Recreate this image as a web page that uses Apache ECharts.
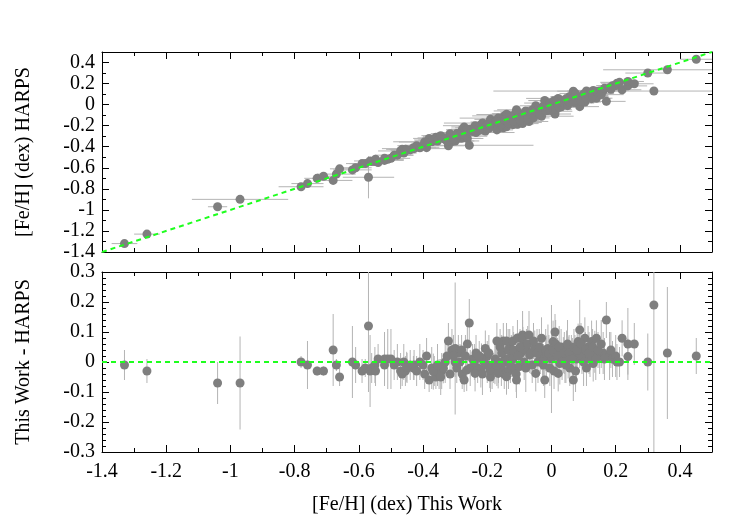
<!DOCTYPE html>
<html>
<head>
<meta charset="utf-8">
<script src="https://cdn.jsdelivr.net/npm/echarts@6/dist/echarts.min.js"></script>
<style>html,body{margin:0;padding:0;background:#fff}#c{width:750px;height:525px}</style>
</head>
<body>
<div id="c"></div>
<script>
// [Fe/H] This Work (x)
const fehThisWork = [-1.33,-1.26,-1.04,-0.97,-0.78,-0.76,-0.73,-0.71,-0.68,-0.67,-0.66,-0.62,-0.61,-0.59,-0.58,-0.57,-0.565,-0.56,-0.55,-0.548,-0.54,-0.52,-0.52,-0.51,-0.50,-0.49,-0.48,-0.47,-0.465,-0.46,-0.455,-0.45,-0.44,-0.43,-0.428,-0.40,-0.389,-0.381,-0.373,-0.365,-0.36,-0.35,-0.342,-0.331,-0.321,-0.316,-0.31,-0.30,-0.30,-0.29,-0.28,-0.278,-0.272,-0.262,-0.256,-0.253,-0.246,-0.235,-0.23,-0.22,-0.21,-0.206,-0.20,-0.19,-0.185,-0.18,-0.175,-0.17,-0.165,-0.16,-0.156,-0.15,-0.147,-0.144,-0.14,-0.134,-0.13,-0.125,-0.12,-0.12,-0.114,-0.11,-0.106,-0.10,-0.095,-0.09,-0.09,-0.089,-0.085,-0.078,-0.07,-0.068,-0.06,-0.052,-0.049,-0.042,-0.035,-0.031,-0.031,-0.025,-0.021,-0.016,-0.011,-0.005,0.0,0.005,0.011,0.016,0.021,0.026,0.03,0.037,0.042,0.047,0.052,0.057,0.062,0.068,0.073,0.078,0.083,0.088,0.088,0.095,0.104,0.109,0.114,0.12,0.125,0.13,0.135,0.14,0.15,0.161,0.171,0.181,0.19,0.2,0.204,0.212,0.22,0.238,0.238,0.258,0.30,0.319,0.361,0.451,
  -0.451,-0.368,-0.337,-0.264,-0.238,-0.218,-0.192,-0.176,-0.166,-0.140,-0.109,
  -0.42,-0.41,-0.395,-0.355,-0.345,-0.325,-0.305,-0.295,-0.285,-0.268,-0.24,-0.225,-0.215,-0.2,-0.195,-0.17,-0.155,-0.145,-0.135,-0.128,-0.118,-0.103,-0.098,-0.08,-0.074,-0.064,-0.056,-0.045,-0.038,-0.028,-0.018,-0.008,0.003,0.008,0.013,0.019,0.024,0.033,0.04,0.045,0.05,0.055,0.065,0.07,0.075,0.08,0.092,0.1,0.106,0.117,0.128,0.138,0.145,0.155,0.165,0.185];
// This Work - HARPS (bottom panel)
const diffTwHarps = [-0.01,-0.03,-0.07,-0.07,0.00,-0.01,-0.03,-0.03,0.04,-0.01,-0.05,0.00,-0.01,-0.03,-0.02,0.12,-0.03,-0.02,-0.01,-0.03,0.01,0.01,-0.01,0.01,0.01,-0.01,0.00,-0.03,-0.04,0.00,-0.03,-0.02,-0.01,-0.02,-0.01,-0.01,0.02,-0.06,-0.02,-0.03,-0.05,-0.04,-0.03,0.00,0.07,-0.04,0.04,0.045,0.00,0.03,0.04,-0.04,-0.06,0.06,0.13,-0.02,0.01,0.03,-0.02,-0.025,0.00,0.045,0.02,-0.05,-0.03,-0.02,0.01,0.07,0.00,0.05,-0.02,0.07,-0.04,0.01,0.07,-0.03,0.05,0.02,0.07,0.01,-0.02,-0.04,0.08,-0.015,0.03,0.09,0.08,0.057,0.00,0.04,0.09,0.023,-0.01,0.045,-0.038,0.00,0.02,0.079,0.034,-0.01,-0.06,0.018,0.045,-0.02,0.01,0.068,0.10,0.034,-0.038,-0.005,0.05,0.023,0.00,0.045,0.015,-0.02,0.03,-0.06,0.03,0.01,0.068,0.107,0.04,0.02,0.079,-0.02,0.05,0.01,0.068,-0.005,0.034,0.079,0.02,0.03,0.14,0.02,0.01,0.02,0.00,0.00,0.079,0.06,0.018,0.06,0.00,0.19,0.03,0.02,
  -0.016,-0.032,-0.021,-0.027,-0.038,0.012,-0.027,-0.004,-0.038,-0.049,-0.06,
  -0.03,0.0,-0.04,-0.01,-0.05,0.02,0.02,-0.02,0.0,0.02,0.0,0.02,-0.04,-0.01,0.03,-0.01,0.03,0.0,0.04,-0.01,0.04,0.02,0.05,-0.02,0.06,0.03,0.07,0.03,0.05,0.0,0.04,0.03,0.04,-0.03,0.06,0.02,0.05,0.0,0.03,-0.01,0.06,0.03,0.01,0.05,-0.03,0.04,0.06,0.0,0.04,0.03,0.05,0.01,0.04,0.06,0.01,0.04];
// uncertainties
const errThisWork = [0.04,0.04,0.03,0.15,0.07,0.05,0.04,0.03,0.06,0.06,0.03,0.06,0.05,0.04,0.06,0.08,0.05,0.04,0.05,0.03,0.04,0.06,0.04,0.05,0.06,0.06,0.05,0.07,0.05,0.04,0.05,0.04,0.04,0.05,0.1,0.05,0.04,0.05,0.12,0.05,0.04,0.05,0.06,0.05,0.05,0.06,0.05,0.06,0.1,0.04,0.06,0.05,0.04,0.05,0.2,0.06,0.05,0.12,0.06,0.04,0.05,0.06,0.1,0.05,0.04,0.05,0.06,0.05,0.05,0.04,0.06,0.05,0.1,0.06,0.05,0.05,0.06,0.05,0.05,0.04,0.12,0.05,0.05,0.06,0.05,0.05,0.06,0.05,0.1,0.05,0.06,0.05,0.06,0.05,0.05,0.06,0.05,0.1,0.06,0.05,0.05,0.06,0.05,0.08,0.05,0.06,0.05,0.05,0.1,0.05,0.05,0.06,0.05,0.05,0.05,0.06,0.05,0.05,0.06,0.05,0.05,0.06,0.05,0.05,0.05,0.06,0.05,0.05,0.06,0.05,0.05,0.05,0.05,0.06,0.06,0.06,0.05,0.06,0.05,0.06,0.06,0.06,0.05,0.06,0.07,0.5,0.2,0.05,
  0.05,0.06,0.08,0.05,0.1,0.05,0.06,0.05,0.12,0.05,0.06,
  0.06,0.05,0.08,0.05,0.06,0.1,0.05,0.06,0.05,0.07,0.05,0.06,0.12,0.05,0.06,0.05,0.08,0.05,0.06,0.05,0.07,0.05,0.06,0.1,0.05,0.06,0.05,0.07,0.05,0.06,0.05,0.06,0.05,0.08,0.05,0.06,0.05,0.07,0.05,0.06,0.05,0.08,0.05,0.06,0.05,0.07,0.05,0.06,0.05,0.06,0.05,0.06,0.05,0.07,0.05,0.06];
const errDiff = [0.05,0.04,0.07,0.155,0.02,0.08,0.015,0.015,0.12,0.02,0.03,0.12,0.06,0.04,0.03,0.22,0.12,0.05,0.06,0.05,0.05,0.09,0.06,0.10,0.10,0.05,0.06,0.06,0.04,0.06,0.05,0.05,0.05,0.04,0.05,0.05,0.06,0.04,0.07,0.05,0.04,0.05,0.06,0.07,0.06,0.05,0.07,0.22,0.05,0.06,0.05,0.05,0.04,0.08,0.08,0.06,0.05,0.06,0.05,0.06,0.05,0.06,0.05,0.05,0.06,0.05,0.06,0.06,0.07,0.06,0.06,0.06,0.05,0.05,0.06,0.06,0.06,0.07,0.05,0.06,0.05,0.06,0.06,0.06,0.06,0.08,0.06,0.06,0.06,0.07,0.08,0.06,0.06,0.06,0.06,0.07,0.06,0.07,0.06,0.07,0.06,0.07,0.08,0.06,0.18,0.07,0.06,0.07,0.06,0.07,0.06,0.06,0.07,0.06,0.07,0.06,0.06,0.07,0.06,0.07,0.06,0.1,0.06,0.06,0.07,0.06,0.07,0.06,0.07,0.06,0.07,0.06,0.06,0.07,0.06,0.08,0.06,0.07,0.06,0.05,0.06,0.12,0.06,0.07,0.095,0.5,0.22,0.06,
  0.05,0.06,0.05,0.07,0.06,0.05,0.06,0.07,0.05,0.06,0.06,
  0.05,0.06,0.05,0.07,0.06,0.06,0.07,0.05,0.06,0.07,0.06,0.05,0.07,0.06,0.06,0.07,0.06,0.05,0.07,0.06,0.06,0.07,0.06,0.08,0.06,0.07,0.06,0.08,0.06,0.07,0.07,0.06,0.07,0.06,0.08,0.06,0.07,0.06,0.07,0.06,0.08,0.06,0.07,0.06,0.07,0.06,0.07,0.08,0.06,0.07,0.06,0.07,0.06,0.08,0.07,0.06];
const errHarps = [0.02,0.02,0.03,0.02,0.02,0.02,0.02,0.02,0.02,0.02,0.02,0.03,0.02,0.02,0.02,0.2,0.02,0.02,0.02,0.02,0.02,0.02,0.02,0.02,0.02,0.02,0.02,0.02,0.02,0.02,0.02,0.02,0.02,0.02,0.02,0.02,0.02,0.02,0.02,0.02,0.02,0.02,0.02,0.02,0.02,0.02,0.02,0.03,0.02,0.02,0.02,0.02,0.02,0.02,0.04,0.02,0.02,0.02,0.02,0.02,0.02,0.02,0.02,0.02,0.02,0.02,0.02,0.02,0.02,0.02,0.02,0.02,0.02,0.02,0.02,0.02,0.02,0.02,0.02,0.02,0.02,0.02,0.02,0.02,0.02,0.03,0.02,0.02,0.02,0.02,0.02,0.02,0.02,0.02,0.02,0.02,0.02,0.02,0.02,0.02,0.02,0.02,0.02,0.02,0.03,0.02,0.02,0.02,0.02,0.02,0.02,0.02,0.02,0.02,0.02,0.02,0.02,0.02,0.02,0.02,0.02,0.04,0.02,0.02,0.03,0.02,0.02,0.02,0.02,0.02,0.02,0.03,0.02,0.02,0.04,0.02,0.02,0.02,0.02,0.02,0.02,0.03,0.02,0.02,0.02,0.03,0.04,0.03,
  0.02,0.02,0.02,0.02,0.02,0.02,0.02,0.02,0.02,0.02,0.02,
  0.02,0.02,0.02,0.02,0.02,0.02,0.02,0.02,0.02,0.02,0.02,0.02,0.02,0.02,0.02,0.02,0.02,0.02,0.02,0.02,0.02,0.02,0.02,0.02,0.02,0.02,0.02,0.02,0.02,0.02,0.02,0.02,0.02,0.02,0.02,0.02,0.02,0.02,0.02,0.02,0.02,0.02,0.02,0.02,0.02,0.02,0.02,0.02,0.02,0.02,0.02,0.02,0.02,0.02,0.02,0.02];
// HARPS value follows from the definition of the bottom panel: HARPS = This Work - (This Work - HARPS)
const fehHarps = fehThisWork.map((v,i)=>Math.round((v-diffTwHarps[i])*1000)/1000);

const xTicks = {min:-1.4, max:0.5, interval:0.2};
const topYTicks = {min:-1.4, max:0.5, interval:0.2};
const botYTicks = {min:-0.3, max:0.3, interval:0.1};

const FONT = '"Liberation Serif", "Times New Roman", serif';
const fmt = (lim)=> v => (v > lim + 1e-9) ? '' : String(Math.round(v*10)/10);

function axisBase(extra){
  return Object.assign({
    type:'value',
    axisLine:{show:true, onZero:false, lineStyle:{color:'#000', width:1}},
    axisTick:{show:true, inside:true, length:7, lineStyle:{color:'#000', width:1}},
    minorTick:{show:true, splitNumber:2, length:4, lineStyle:{color:'#000', width:1}},
    splitLine:{show:false},
    axisLabel:{show:false}
  }, extra);
}
const lbl = (f, margin)=>({show:true, color:'#000', fontFamily:FONT, fontSize:20, margin:margin, formatter:f});
const nameStyle = {color:'#000', fontFamily:FONT, fontSize:20};

const topPts = fehThisWork.map((x,i)=>[x, fehHarps[i], errThisWork[i], errHarps[i]]);
const botPts = fehThisWork.map((x,i)=>[x, diffTwHarps[i], 0, errDiff[i]]);

function errRender(params, api){
  const x=api.value(0), y=api.value(1), ex=api.value(2), ey=api.value(3);
  const ch=[];
  const st={stroke:'#b4b4b4', lineWidth:1};
  if (ex>0){ const a=api.coord([x-ex,y]), b=api.coord([x+ex,y]); ch.push({type:'line', shape:{x1:a[0],y1:a[1],x2:b[0],y2:b[1]}, style:st}); }
  if (ey>0){ const a=api.coord([x,y-ey]), b=api.coord([x,y+ey]); ch.push({type:'line', shape:{x1:a[0],y1:a[1],x2:b[0],y2:b[1]}, style:st}); }
  return {type:'group', children:ch};
}

const chart = echarts.init(document.getElementById('c'), null, {renderer:'canvas'});
chart.setOption({
  animation:false,
  backgroundColor:'#fff',
  grid:[
    {left:102, right:38, top:52, height:200},
    {left:102, right:38, top:272, height:180}
  ],
  xAxis:[
    axisBase(Object.assign({gridIndex:0, position:'bottom'}, xTicks)),
    axisBase(Object.assign({gridIndex:0, position:'top'}, xTicks)),
    axisBase(Object.assign({gridIndex:1, position:'bottom', axisLabel:lbl(fmt(0.45),10),
      name:'[Fe/H] (dex) This Work', nameLocation:'middle', nameGap:43, nameTextStyle:nameStyle}, xTicks)),
    axisBase(Object.assign({gridIndex:1, position:'top'}, xTicks))
  ],
  yAxis:[
    axisBase(Object.assign({gridIndex:0, position:'left', axisLabel:lbl(fmt(0.45),7),
      name:'[Fe/H] (dex) HARPS', nameLocation:'middle', nameGap:68, nameTextStyle:nameStyle}, topYTicks)),
    axisBase(Object.assign({gridIndex:0, position:'right'}, topYTicks)),
    axisBase(Object.assign({gridIndex:1, position:'left', axisLabel:lbl(fmt(0.35),7),
      minorTick:{show:true, splitNumber:5, length:4, lineStyle:{color:'#000', width:1}},
      name:'This Work - HARPS', nameLocation:'middle', nameGap:68, nameTextStyle:nameStyle}, botYTicks)),
    axisBase(Object.assign({gridIndex:1, position:'right',
      minorTick:{show:true, splitNumber:5, length:4, lineStyle:{color:'#000', width:1}}}, botYTicks))
  ],
  series:[
    {type:'custom', xAxisIndex:0, yAxisIndex:0, renderItem:errRender, data:topPts, encode:{x:0,y:1}, clip:true, z:1, silent:true},
    {type:'scatter', xAxisIndex:0, yAxisIndex:0, data:topPts.map(p=>[p[0],p[1]]), symbolSize:9, itemStyle:{color:'#7f7f7f', opacity:1}, z:2},
    {type:'line', xAxisIndex:0, yAxisIndex:0, data:[[-1.4,-1.4],[0.5,0.5]], showSymbol:false, symbol:'none',
      lineStyle:{color:'#1eff1e', width:2, type:[5,4]}, z:3},
    {type:'custom', xAxisIndex:2, yAxisIndex:2, renderItem:errRender, data:botPts, encode:{x:0,y:1}, clip:true, z:1, silent:true},
    {type:'scatter', xAxisIndex:2, yAxisIndex:2, data:botPts.map(p=>[p[0],p[1]]), symbolSize:9, itemStyle:{color:'#7f7f7f', opacity:1}, z:2},
    {type:'line', xAxisIndex:2, yAxisIndex:2, data:[[-1.4,0],[0.5,0]], showSymbol:false, symbol:'none',
      lineStyle:{color:'#1eff1e', width:2, type:[5,4]}, z:3}
  ]
});
</script>
</body>
</html>
